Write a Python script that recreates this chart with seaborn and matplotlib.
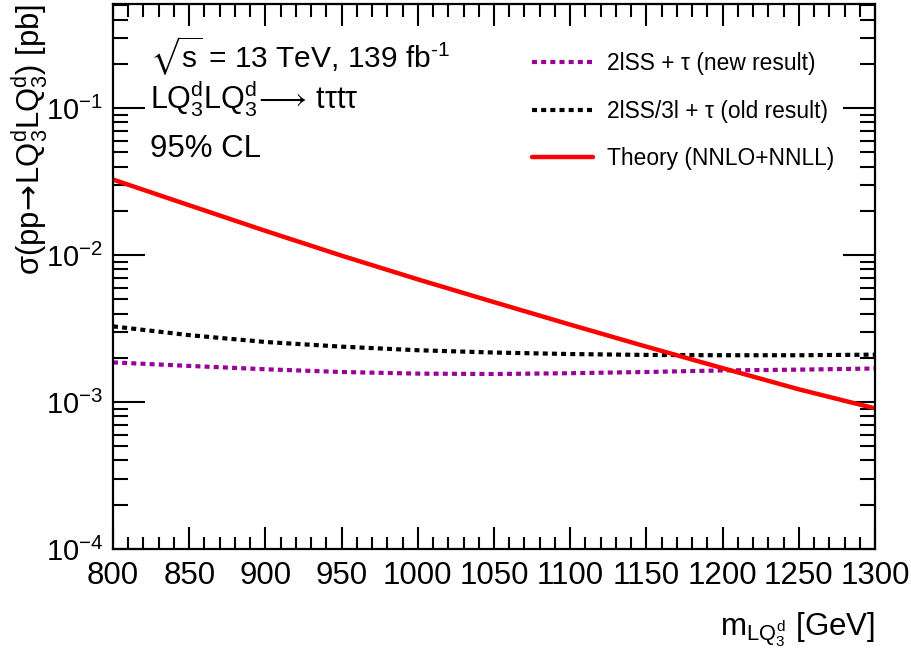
import matplotlib
matplotlib.use("Agg")
import matplotlib.pyplot as plt
import matplotlib.ticker as mticker
import numpy as np
import pandas as pd
import seaborn as sns

# ---- data ----
mass = [800, 850, 900, 950, 1000, 1050, 1100, 1150, 1200, 1250, 1300]
new_result = [1.86e-3, 1.76e-3, 1.67e-3, 1.60e-3, 1.56e-3, 1.55e-3, 1.57e-3, 1.60e-3, 1.64e-3, 1.66e-3, 1.69e-3]
old_result = [3.27e-3, 2.85e-3, 2.56e-3, 2.38e-3, 2.25e-3, 2.17e-3, 2.12e-3, 2.09e-3, 2.08e-3, 2.08e-3, 2.10e-3]
theory = [0.0326, 0.0218, 0.0146, 0.00990, 0.00683, 0.00478, 0.00336, 0.00238, 0.00170, 0.00122, 0.000905]

labels = [r"2lSS + τ (new result)", r"2lSS/3l + τ (old result)", "Theory (NNLO+NNLL)"]
xticks = [800, 850, 900, 950, 1000, 1050, 1100, 1150, 1200, 1250, 1300]

sns.set_style("ticks")
plt.rcParams["font.family"] = ["Liberation Sans", "DejaVu Sans"]
plt.rcParams["mathtext.fontset"] = "custom"
plt.rcParams["mathtext.rm"] = "Liberation Sans"
plt.rcParams["mathtext.it"] = "Liberation Sans"
plt.rcParams["mathtext.bf"] = "Liberation Sans:bold"
plt.rcParams["mathtext.sf"] = "DejaVu Sans"
plt.rcParams["mathtext.fallback"] = "stixsans"
for k in ["text.color", "axes.labelcolor", "xtick.color", "ytick.color", "axes.edgecolor"]:
    plt.rcParams[k] = "black"

fig = plt.figure(figsize=(9.12, 6.59), dpi=100)
ax = fig.add_axes([113 / 912, 1 - 549 / 659, (875 - 113) / 912, (549 - 4) / 659])

df = pd.DataFrame({
    "mass": mass * 3,
    "xsec": new_result + old_result + theory,
    "series": [labels[0]] * len(mass) + [labels[1]] * len(mass) + [labels[2]] * len(mass),
})

styles = {
    labels[0]: dict(color="#990099", ls=(0, (1.2, 1.0)), lw=3.0),
    labels[1]: dict(color="black", ls=(0, (1.2, 1.0)), lw=3.0),
    labels[2]: dict(color="#ff0000", ls="-", lw=3.2),
}
for lab in labels:
    sub = df[df["series"] == lab]
    st = styles[lab]
    sns.lineplot(data=sub, x="mass", y="xsec", ax=ax, color=st["color"],
                 linestyle=st["ls"], linewidth=st["lw"], label=lab)

ax.set_yscale("log")
ax.set_xlim(800, 1300)
ax.set_ylim(1e-4, 0.51)
ax.set_xticks(xticks)
ax.set_xticklabels([str(v) for v in xticks])
ax.xaxis.set_minor_locator(mticker.MultipleLocator(10))
ax.yaxis.set_major_locator(mticker.LogLocator(base=10, numticks=10))
ax.yaxis.set_minor_locator(mticker.LogLocator(base=10, subs=np.arange(2, 10), numticks=20))
ax.yaxis.set_minor_formatter(mticker.NullFormatter())

ax.tick_params(which="both", direction="in", top=True, right=True, width=1.5, color="black")
ax.tick_params(axis="x", which="major", length=16, pad=9, labelsize=22.5)
ax.tick_params(axis="x", which="minor", length=9)
ax.tick_params(axis="y", which="major", length=23, pad=7, labelsize=21)
ax.tick_params(axis="y", which="minor", length=11)
for sp in ax.spines.values():
    sp.set_linewidth(1.6)
    sp.set_color("black")

ax.set_ylabel(r"σ(pp$\!\mathsf{\rightarrow}\!$LQ$_3^{d}$LQ$_3^{d}$) [pb]", fontsize=22.3, loc="top")
ax.yaxis.set_label_coords(-0.083, 1.0)
ax.set_xlabel(r"m$_{LQ_3^{d}}$ [GeV]", fontsize=22.5, loc="right", labelpad=14)

ax.text(0.049, 0.8826, r"$\sqrt{s}$ = 13 TeV, 139 fb$^{‐1}$", transform=ax.transAxes, fontsize=21.5, va="baseline")
ax.text(0.049, 0.809, r"LQ$_3^{d}$LQ$_3^{d}$$\!\longrightarrow\,$tτtτ", transform=ax.transAxes, fontsize=22, va="baseline")
ax.text(0.049, 0.719, "95% CL", transform=ax.transAxes, fontsize=22.5, va="baseline")

leg = ax.legend(loc="upper left", bbox_to_anchor=((532 - 113) / 762, (549 - 52) / 545), frameon=False,
                fontsize=16.4, borderpad=0, borderaxespad=0,
                handlelength=2.7, labelspacing=1.08, handletextpad=0.6)
ax.grid(False)

fig.savefig("out.png", dpi=100)
